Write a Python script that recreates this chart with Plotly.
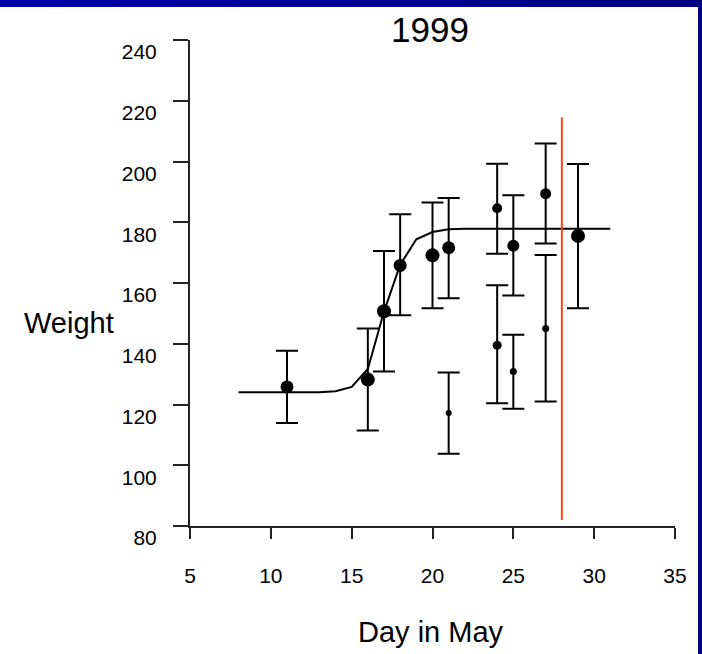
import plotly.graph_objects as go

# ---------------- data ----------------
days = [11, 16, 17, 18, 20, 21, 21, 24, 24, 25, 25, 27, 27, 29]
weight = [125.8, 128.2, 150.7, 165.8, 169.1, 171.6, 117.2, 184.6, 139.5, 172.3, 130.9, 189.4, 145.0, 175.5]
weight_upper = [137.7, 145.0, 170.5, 182.6, 186.5, 188.0, 130.5, 199.3, 159.3, 188.9, 143.0, 205.9, 169.2, 199.2]
weight_lower = [113.9, 111.4, 130.9, 149.4, 151.7, 155.0, 103.8, 169.6, 120.4, 155.9, 118.6, 173.0, 121.0, 151.7]

curve_days = list(range(8, 32))
curve_weight = [124.0, 124.0, 124.0, 124.0, 124.0, 124.0, 124.4, 125.8, 131.7, 150.6, 166.0, 174.4,
                176.8, 177.7, 177.9, 177.9, 177.9, 177.9, 177.9, 177.9, 177.9, 177.9, 177.9, 177.9]

cutoff_day = 28
cutoff_span = [82.0, 214.5]

x_ticks = [5, 10, 15, 20, 25, 30, 35]
y_ticks = [80, 100, 120, 140, 160, 180, 200, 220, 240]

title_text = "1999"
x_title = "Day in May"
y_title = "Weight"

# ---------------- style ----------------
marker_px = [13, 14, 14, 13, 14, 13, 6, 10, 9, 12, 7, 11, 7, 14]
FONT = "Arial, Liberation Sans, Helvetica, sans-serif"
AX = "#222222"

W, H = 702, 654
L, R, T, B = 190, 27, 40, 128
pw, ph = W - L - R, H - T - B

def px_x(p):
    return (p - L) / pw

def px_y(p):
    return (H - B - p) / ph

fig = go.Figure()

fig.add_trace(go.Scatter(
    x=curve_days, y=curve_weight, mode="lines",
    line=dict(color="black", width=2), hoverinfo="skip", showlegend=False))

fig.add_trace(go.Scatter(
    x=days, y=weight, mode="markers",
    marker=dict(size=marker_px, color="#000000", opacity=1, line=dict(width=0)),
    error_y=dict(type="data", symmetric=False,
                 array=[u - w for u, w in zip(weight_upper, weight)],
                 arrayminus=[w - l for w, l in zip(weight, weight_lower)],
                 color="black", thickness=2, width=11),
    showlegend=False))

fig.add_trace(go.Scatter(
    x=[cutoff_day, cutoff_day], y=cutoff_span, mode="lines",
    line=dict(color="#FF4418", width=2), hoverinfo="skip", showlegend=False))

# frame bars (top + right), navy
shapes = []
nseg = 12
for i in range(nseg):
    x0 = i * W / nseg
    x1 = (i + 1) * W / nseg + 1
    t = i / (nseg - 1)
    c = int(round(168 - t * 40))
    shapes.append(dict(type="rect", xref="paper", yref="paper",
                       x0=px_x(x0), x1=px_x(x1), y0=px_y(7), y1=px_y(-5),
                       fillcolor=f"rgb(0,0,{c})", line=dict(width=0), layer="above"))
shapes.append(dict(type="rect", xref="paper", yref="paper",
                   x0=px_x(698), x1=px_x(W + 5), y0=px_y(H + 5), y1=px_y(-5),
                   fillcolor="rgb(0,0,128)", line=dict(width=0), layer="above"))

annotations = [
    dict(text=title_text, xref="paper", yref="paper", x=px_x(430), y=px_y(30),
         xanchor="center", yanchor="middle", showarrow=False,
         font=dict(family=FONT, size=35, color="black")),
    dict(text=x_title, xref="paper", yref="paper", x=px_x(431), y=px_y(632),
         xanchor="center", yanchor="middle", showarrow=False,
         font=dict(family=FONT, size=29, color="black")),
    dict(text=y_title, xref="paper", yref="paper", x=px_x(69), y=px_y(323),
         xanchor="center", yanchor="middle", showarrow=False,
         font=dict(family=FONT, size=29, color="black")),
]

fig.update_layout(
    width=W, height=H,
    margin=dict(l=L, r=R, t=T, b=B, pad=0),
    paper_bgcolor="white", plot_bgcolor="white",
    shapes=shapes, annotations=annotations,
    xaxis=dict(range=[5, 35], tickvals=x_ticks, ticktext=[str(v) for v in x_ticks],
               ticks="outside", ticklen=11, tickwidth=2, tickcolor=AX,
               showline=True, linewidth=2, linecolor=AX,
               showgrid=False, zeroline=False,
               tickfont=dict(family=FONT, size=21, color="black"),
               ticklabelstandoff=19),
    yaxis=dict(range=[80, 240], tickvals=y_ticks, ticktext=[str(v) for v in y_ticks],
               ticks="outside", ticklen=15, tickwidth=2, tickcolor=AX,
               showline=True, linewidth=2, linecolor=AX,
               showgrid=False, zeroline=False,
               tickfont=dict(family=FONT, size=21, color="black"),
               ticklabelstandoff=12, ticklabelshift=12),
)

fig.write_html("out.html")
